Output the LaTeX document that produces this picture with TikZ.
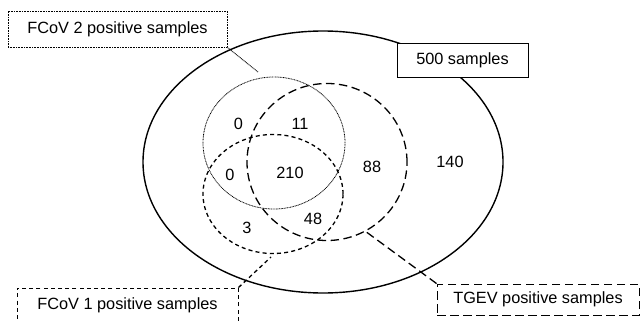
\documentclass[tikz,border=0pt]{standalone}
\usepackage{fontspec}
\setmainfont{Liberation Sans}
\begin{document}
\begin{tikzpicture}[x=1pt,y=-1pt,
  lbl/.style={font=\fontsize{16.3}{19}\selectfont, inner sep=0pt},
  dotline/.style={line width=0.8pt, dash pattern=on 0.9pt off 0.7pt},
  shortdash/.style={line width=1.3pt, dash pattern=on 4pt off 3.2pt},
  longdash/.style={line width=1.3pt, dash pattern=on 8.5pt off 4.5pt},
  solidline/.style={line width=1.4pt},
  box/.style={lbl, fill=white, inner sep=0pt}
]
\useasboundingbox (0,0) rectangle (642,321);
% outer set
\draw[solidline] (323,162) ellipse [x radius=180pt, y radius=131pt];
% sets
\draw[dotline] (274,143) ellipse [x radius=71pt, y radius=66pt];
\draw[shortdash] (273,194) ellipse [x radius=70pt, y radius=59.5pt];
\draw[longdash] (327,162) ellipse [x radius=80pt, y radius=78.5pt];
% numbers
\node[lbl] (n1) at (238.5,124) {0};
\node[lbl] (n2) at (300,123.5) {11};
\node[lbl] (n3) at (230,175) {0};
\node[lbl] (n4) at (290,173) {210};
\node[lbl] (n5) at (372,167) {88};
\node[lbl] (n6) at (450,162) {140};
\node[lbl] (n7) at (247,228) {3};
\node[lbl] (n8) at (313,218.5) {48};
% label boxes
\node[box, draw, dotline, line width=0.9pt, minimum width=219pt, minimum height=36pt] (b2) at (117.5,29) {FCoV 2 positive samples};
\node[box, draw, solidline, line width=0.9pt, minimum width=131pt, minimum height=34pt] (b500) at (462.5,60) {500 samples};
\node[box, draw, shortdash, line width=0.9pt, minimum width=221pt, minimum height=35pt] (b1) at (127.5,305.5) {FCoV 1 positive samples};
\node[box, draw, longdash, line width=0.9pt, minimum width=202pt, minimum height=31pt] (bt) at (538,299.5) {TGEV positive samples};
% connector end points
\coordinate (c2) at (258,72);
\coordinate (c1) at (271,257);
\coordinate (ct) at (365,231);
\draw[dotline] (b2.south east) -- (c2);
\draw[shortdash] (b1.north east) -- (c1);
\draw[longdash] (bt.north west) -- (ct);
\end{tikzpicture}
\end{document}
